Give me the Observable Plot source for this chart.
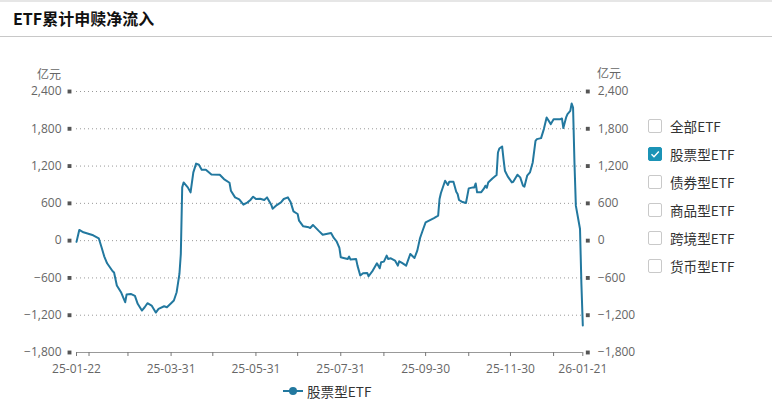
<!DOCTYPE html>
<html><head><meta charset="utf-8">
<script src="https://cdn.jsdelivr.net/npm/d3@7"></script>
<script src="https://cdn.jsdelivr.net/npm/@observablehq/plot@0.6"></script>
<style>
body{margin:0;background:#fff;font-family:"Open Sans","Noto Sans CJK SC",sans-serif;}
#wrap{position:relative;width:772px;height:400px;overflow:hidden;background:#fff;}
#chart{position:absolute;left:0;top:0;}
.topbar{position:absolute;left:0;top:0;width:772px;height:2px;background:#e6e6e6;}
.title{position:absolute;left:13px;top:8px;font-size:16px;line-height:20px;font-weight:bold;color:#111;font-family:"Noto Sans CJK SC","Open Sans",sans-serif;}
.hline{position:absolute;left:0;top:36px;width:772px;height:1px;background:#c8c8c8;}
.unit{position:absolute;font-size:12px;line-height:16px;color:#666;font-family:"Noto Sans CJK SC",sans-serif;}
.li{position:absolute;left:648px;height:20px;display:flex;align-items:center;font-size:13.6px;color:#333;font-family:"Noto Sans CJK SC","Open Sans",sans-serif;}
.box{width:14px;height:14px;box-sizing:border-box;border:1px solid #c9c9c9;border-radius:2px;background:#fff;margin-right:8px;}
.box.on{background:#1b93b6;border-color:#1b93b6;}
#legend-bottom{position:absolute;top:381px;left:283px;height:20px;display:flex;align-items:center;font-size:13.6px;color:#333;font-family:"Noto Sans CJK SC","Open Sans",sans-serif;}
</style></head><body>
<div id="wrap">
  <div class="topbar"></div>
  <div class="title">ETF累计申赎净流入</div>
  <div class="hline"></div>
  <div id="chart"></div>
  <div class="unit" style="left:37px;top:66px;">亿元</div>
  <div class="unit" style="left:597px;top:65px;">亿元</div>
  <div id="legend-right"></div>
  <div id="legend-bottom"></div>
</div>
<script>
const dates = ["2025-01-22","2025-01-24","2025-01-27","2025-02-03","2025-02-07","2025-02-09","2025-02-11","2025-02-13","2025-02-17","2025-02-18","2025-02-20","2025-02-23","2025-02-25","2025-02-26","2025-02-27","2025-03-02","2025-03-05","2025-03-07","2025-03-10","2025-03-12","2025-03-14","2025-03-17","2025-03-20","2025-03-22","2025-03-26","2025-03-28","2025-03-31","2025-04-02","2025-04-04","2025-04-06","2025-04-07","2025-04-08","2025-04-09","2025-04-12","2025-04-14","2025-04-16","2025-04-18","2025-04-20","2025-04-22","2025-04-25","2025-04-29","2025-05-05","2025-05-08","2025-05-12","2025-05-13","2025-05-16","2025-05-19","2025-05-22","2025-05-25","2025-05-27","2025-05-29","2025-05-31","2025-06-03","2025-06-06","2025-06-08","2025-06-11","2025-06-12","2025-06-15","2025-06-18","2025-06-20","2025-06-23","2025-06-25","2025-06-27","2025-06-30","2025-07-01","2025-07-04","2025-07-08","2025-07-09","2025-07-11","2025-07-12","2025-07-15","2025-07-18","2025-07-24","2025-07-26","2025-07-28","2025-07-30","2025-07-31","2025-08-02","2025-08-05","2025-08-06","2025-08-07","2025-08-11","2025-08-12","2025-08-14","2025-08-16","2025-08-19","2025-08-20","2025-08-23","2025-08-26","2025-08-28","2025-08-29","2025-08-31","2025-09-02","2025-09-03","2025-09-05","2025-09-08","2025-09-10","2025-09-11","2025-09-13","2025-09-16","2025-09-19","2025-09-22","2025-09-24","2025-09-26","2025-09-28","2025-09-30","2025-10-06","2025-10-09","2025-10-10","2025-10-11","2025-10-14","2025-10-16","2025-10-17","2025-10-20","2025-10-22","2025-10-23","2025-10-24","2025-10-26","2025-10-29","2025-10-31","2025-11-03","2025-11-04","2025-11-05","2025-11-06","2025-11-09","2025-11-11","2025-11-12","2025-11-13","2025-11-14","2025-11-17","2025-11-20","2025-11-21","2025-11-22","2025-11-24","2025-11-25","2025-11-26","2025-11-28","2025-12-01","2025-12-02","2025-12-05","2025-12-07","2025-12-09","2025-12-10","2025-12-12","2025-12-14","2025-12-16","2025-12-18","2025-12-19","2025-12-22","2025-12-24","2025-12-26","2025-12-29","2025-12-31","2026-01-05","2026-01-06","2026-01-07","2026-01-09","2026-01-10","2026-01-12","2026-01-13","2026-01-14","2026-01-15","2026-01-16","2026-01-19","2026-01-20","2026-01-21"];
const values = [-20,172,134,86,38,-107,-257,-364,-493,-514,-723,-830,-937,-991,-868,-857,-889,-1017,-1125,-1072,-1007,-1045,-1157,-1098,-1056,-1072,-1007,-964,-830,-536,-214,857,937,857,777,1098,1240,1221,1141,1141,1066,1061,991,932,804,696,664,579,616,654,707,670,675,654,696,579,514,573,616,670,696,616,471,429,321,230,214,204,252,230,161,96,123,43,-11,-118,-268,-279,-295,-257,-305,-295,-402,-562,-525,-520,-573,-482,-364,-445,-348,-338,-241,-295,-284,-321,-402,-332,-359,-402,-214,-279,-161,43,172,295,364,402,670,766,964,895,948,948,787,750,654,627,606,841,857,857,921,777,780,840,884,850,937,1001,1055,1419,1483,1516,1313,1125,1034,937,948,1061,1018,884,868,1045,1098,1259,1607,1634,1650,1795,1982,1875,1955,1955,1966,1811,1982,2036,2089,2207,2143,1259,563,188,-700,-1366];
const yTicks = [-1800,-1200,-600,0,600,1200,1800,2400];
const xTickDates = ["2025-01-22","2025-01-31","2025-02-28","2025-03-31","2025-04-30","2025-05-31","2025-06-30","2025-07-31","2025-08-31","2025-09-30","2025-10-31","2025-11-30","2025-12-31","2026-01-21"];
const xLabelDates = ["2025-01-22","2025-03-31","2025-05-31","2025-07-31","2025-09-30","2025-11-30","2026-01-21"];
const seriesName = "股票型ETF";
const legendItems = ["全部ETF","股票型ETF","债券型ETF","商品型ETF","跨境型ETF","货币型ETF"];
const lineColor = "#22789f";

const parse = d3.utcParse("%Y-%m-%d");
const data = dates.map((d, i) => ({date: parse(d), value: values[i]}));
const fmtX = d3.utcFormat("%y-%m-%d");
const font = '"Open Sans","Noto Sans CJK SC",sans-serif';

const plot = Plot.plot({
  width: 772, height: 400,
  marginLeft: 76, marginRight: 189.7, marginTop: 91, marginBottom: 48,
  style: {fontFamily: font, fontSize: "12px", color: "#666", background: "transparent", overflow: "visible"},
  x: {type: "utc", domain: [parse(dates[0]), parse(dates[dates.length - 1])]},
  y: {domain: [-1800, 2400]},
  marks: [
    Plot.gridY(yTicks.filter(t => t > -1800), {stroke: "#999", strokeOpacity: 1, strokeDasharray: "1,3"}),
    Plot.ruleY([-1800], {stroke: "#999", strokeWidth: 1}),
    Plot.axisX({ticks: xTickDates.map(parse), tickSize: 4, tickFormat: () => "", stroke: "#777", label: null}),
    Plot.axisX({ticks: xLabelDates.map(parse), tickSize: 0, tickPadding: 12, tickFormat: fmtX, fill: "#666", fontSize: 12, label: null}),
    Plot.axisY({anchor: "left", ticks: yTicks, tickSize: 0, tickPadding: 15, tickFormat: d3.format(","), fill: "#666", fontSize: 12, label: null}),
    Plot.axisY({anchor: "right", ticks: yTicks, tickSize: 0, tickPadding: 15, tickFormat: d3.format(","), fill: "#666", fontSize: 12, label: null}),
    Plot.dot(yTicks, {y: d => d, frameAnchor: "left", dx: -7, symbol: "square", r: 2.2, fill: "#555"}),
    Plot.dot(yTicks, {y: d => d, frameAnchor: "right", dx: 5, symbol: "square", r: 2.2, fill: "#555"}),
    Plot.line(data, {x: "date", y: "value", stroke: lineColor, strokeWidth: 2, strokeLinejoin: "round"})
  ]
});
document.getElementById("chart").appendChild(plot);

const lr = document.getElementById("legend-right");
legendItems.forEach((name, i) => {
  const row = document.createElement("div");
  row.className = "li";
  row.style.top = (116 + i * 28) + "px";
  const on = name === seriesName;
  row.innerHTML = `<div class="box${on ? " on" : ""}">${on ? '<svg width="12" height="12" style="display:block"><polyline points="2.5,6.2 5,8.7 9.8,3.6" fill="none" stroke="#fff" stroke-width="1.4"/></svg>' : ""}</div><span>${name}</span>`;
  lr.appendChild(row);
});

document.getElementById("legend-bottom").innerHTML =
  `<svg width="20" height="10" style="margin-right:4px"><line x1="0" y1="5" x2="20" y2="5" stroke="${lineColor}" stroke-width="2"/><circle cx="10" cy="5" r="4" fill="${lineColor}"/></svg><span>${seriesName}</span>`;
</script>
</body></html>
